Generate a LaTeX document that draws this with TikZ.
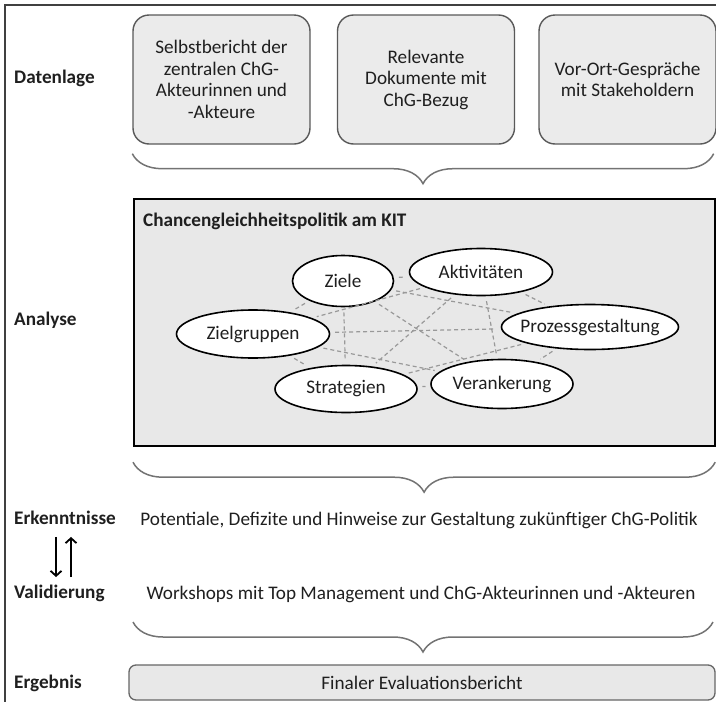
\documentclass[tikz,border=0pt]{standalone}
\usepackage{fontspec}
\setmainfont{Carlito}
\usetikzlibrary{shapes.geometric,decorations.pathreplacing,arrows.meta}

\tikzset{
  every node/.style={font=\fontsize{19.2}{21.5}\selectfont, text=black!88},
  zeile/.style={font=\fontsize{19.2}{21.5}\selectfont\bfseries, anchor=west, inner sep=0pt, text height=13pt, text depth=4.5pt},
  quelle/.style={draw=black!65, line width=1.4pt, fill=black!8, rounded corners=16pt, minimum width=177pt, minimum height=129pt, align=center},
  thema/.style={ellipse, draw=black, line width=1.6pt, fill=white, inner sep=0pt},
  netz/.style={draw=black!40, line width=1.2pt, dash pattern=on 4pt off 3pt, shorten >=5pt, shorten <=5pt},
  klammer/.style={draw=black!55, line width=1.5pt, decorate, decoration={brace, amplitude=30pt, mirror}},
  pfeil/.style={line width=1.8pt, -{Straight Barb[length=5pt,width=11pt]}, shorten >=8pt, shorten <=8pt}
}

\begin{document}
\begin{tikzpicture}[x=1pt, y=-1pt]
    \useasboundingbox (0,0) rectangle (716,702);
    \draw[line width=1.2pt, black!75] (5,702) -- (5,5) -- (716,5);

    % Datenlage
    \node[zeile] (datenlage) at (14,79) {Datenlage};
    \node[quelle] (selbst) at (221.5,79.5) {Selbstbericht der\\zentralen ChG-\\Akteurinnen und\\-Akteure};
    \node[quelle] (dokumente) at (426,79.5) {Relevante\\Dokumente mit\\ChG-Bezug};
    \node[quelle] (gespraeche) at (627.5,79.5) {Vor-Ort-Gespräche\\mit Stakeholdern};
    \draw[klammer] ([yshift=-9pt]selbst.south west) -- ([xshift=-3pt,yshift=-9pt]gespraeche.south east);

    % Analyse
    \node[zeile] (analyse) at (14,321) {Analyse};
    \node[draw=black, line width=2.2pt, fill=black!9, minimum width=581pt, minimum height=247pt, anchor=north west] (politik) at (133,198) {};
    \node[font=\fontsize{19.2}{21.5}\selectfont\bfseries, anchor=west, inner sep=0pt] (titel) at (143,221) {Chancengleichheitspolitik am KIT};
    \node[thema, minimum width=101pt, minimum height=51pt] (ziele) at (343,281) {\makebox[0pt]{Ziele}};
    \node[thema, minimum width=143pt, minimum height=47pt] (aktiv) at (481,272) {\makebox[0pt]{Aktivitäten}};
    \node[thema, minimum width=153pt, minimum height=48pt] (zielgr) at (253,334) {\makebox[0pt]{Zielgruppen}};
    \node[thema, minimum width=177pt, minimum height=45pt] (prozess) at (590,327) {\makebox[0pt]{Prozessgestaltung}};
    \node[thema, minimum width=142pt, minimum height=47pt] (strat) at (346,389) {\makebox[0pt]{Strategien}};
    \node[thema, minimum width=142pt, minimum height=49pt] (veranker) at (502,384) {\makebox[0pt]{Verankerung}};
    \foreach \a/\b in {ziele/aktiv, ziele/zielgr, ziele/prozess, ziele/strat, ziele/veranker,
        aktiv/zielgr, aktiv/prozess, aktiv/strat, aktiv/veranker,
        zielgr/prozess, zielgr/strat, zielgr/veranker,
        prozess/strat, prozess/veranker, strat/veranker}
        \draw[netz] (\a) -- (\b);
    \draw[klammer] ([yshift=-15pt]politik.south west) -- ([xshift=-1pt,yshift=-15pt]politik.south east);

    % Erkenntnisse und Validierung
    \node[zeile] (erkenntnisse) at (14,520) {Erkenntnisse};
    \node (befund) at (419,520) {Potentiale, Defizite und Hinweise zur Gestaltung zukünftiger ChG-Politik};
    \node[zeile] (validierung) at (14,594) {Validierung};
    \node (workshops) at (421,594) {Workshops mit Top Management und ChG-Akteurinnen und -Akteuren};
    \draw[pfeil] ([xshift=-9pt]erkenntnisse.south) -- ([xshift=-9pt]erkenntnisse.south |- validierung.north);
    \draw[pfeil] ([xshift=6pt]erkenntnisse.south |- validierung.north) -- ([xshift=6pt]erkenntnisse.south);
    \coordinate (klammerlinks) at (133,622);
    \coordinate (klammerrechts) at (713,622);
    \draw[klammer] (klammerlinks) -- (klammerrechts);

    % Ergebnis
    \node[zeile] (ergebnis) at (14,684) {Ergebnis};
    \node[draw=black!60, line width=1.3pt, fill=black!9, rounded corners=7pt, minimum width=586pt, minimum height=35pt] (bericht) at (422,682.5) {Finaler Evaluationsbericht};
\end{tikzpicture}
\end{document}
